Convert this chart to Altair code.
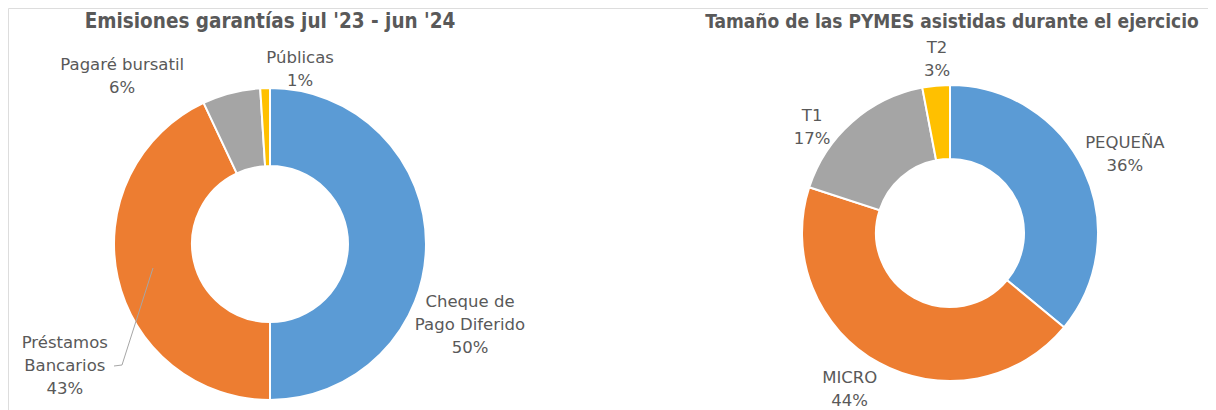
import altair as alt
import pandas as pd

# ---- data ----
left_title = "Emisiones garantías jul '23 - jun '24"
left_cats = ["Cheque de Pago Diferido", "Préstamos Bancarios", "Pagaré bursatil", "Públicas"]
left_labels = ["Cheque de\nPago Diferido", "Préstamos\nBancarios", "Pagaré bursatil", "Públicas"]
left_vals = [50, 43, 6, 1]

right_title = "Tamaño de las PYMES asistidas durante el ejercicio"
right_cats = ["PEQUEÑA", "MICRO", "T1", "T2"]
right_labels = ["PEQUEÑA", "MICRO", "T1", "T2"]
right_vals = [36, 44, 17, 3]

palette = ["#5B9BD5", "#ED7D31", "#A5A5A5", "#FFC000"]

# ---- layout / style ----
FONT = "DejaVu Sans Condensed"
LFONT = "DejaVu Sans"
TXT = "#595959"
W, H = 1200, 402
LH = 23
left_geo = dict(cx=262, cy=236, r_in=78, r_out=156, tx=262, tsize=20.5,
                nudges=[(44, 58), (-53, 65), (-109, -27.5), (35, -30.5)])
right_geo = dict(cx=942, cy=225, r_in=74, r_out=148, tx=944, tsize=19,
                 nudges=[(41, -26.5), (-29, 15), (-40, -5.5), (1, -37.5)])


def frame(cats, labels, vals):
    total = sum(vals)
    rows, cum = [], 0
    for i, (c, l, v) in enumerate(zip(cats, labels, vals)):
        rows.append(dict(cat=c, idx=i, value=v, mid=cum + v / 2,
                         text=f"{l}\n{round(100 * v / total)}%"))
        cum += v
    return pd.DataFrame(rows)


all_cats = left_cats + right_cats
color = alt.Color("cat:N", scale=alt.Scale(domain=all_cats, range=palette + palette), legend=None)
theta_scale = alt.Scale(domain=[0, 100])


def donut(df, geo, title):
    layers = [
        alt.Chart(df).mark_arc(innerRadius=geo["r_in"], outerRadius=geo["r_out"],
                               stroke="white", strokeWidth=2).encode(
            theta=alt.Theta("value:Q", stack=True, scale=theta_scale),
            color=color,
            order=alt.Order("idx:Q"),
            x=alt.value(geo["cx"]), y=alt.value(geo["cy"]),
        )
    ]
    for i, (dx, dy) in enumerate(geo["nudges"]):
        sub = df.iloc[[i]]
        layers.append(
            alt.Chart(sub).mark_text(radius=geo["r_out"], dx=dx, dy=dy, lineBreak="\n",
                                     font=LFONT, fontSize=16.5, lineHeight=LH,
                                     color=TXT, align="center", baseline="middle").encode(
                theta=alt.Theta("mid:Q", scale=theta_scale),
                text="text:N",
                x=alt.value(geo["cx"]), y=alt.value(geo["cy"]),
            )
        )
    layers.append(
        alt.Chart(pd.DataFrame({"t": [title]})).mark_text(
            font=FONT, fontSize=geo["tsize"], fontWeight="bold", color=TXT,
            align="center", baseline="middle").encode(
            text="t:N", x=alt.value(geo["tx"]), y=alt.value(14))
    )
    return layers


ldf = frame(left_cats, left_labels, left_vals)
rdf = frame(right_cats, right_labels, right_vals)

layers = donut(ldf, left_geo, left_title) + donut(rdf, right_geo, right_title)

# leader line for "Préstamos Bancarios"
one = pd.DataFrame({"a": [0]})
leader_line = alt.Chart(one).mark_rule(color="#A6A6A6", strokeWidth=1).encode(
    x=alt.value(145), y=alt.value(260), x2=alt.value(114), y2=alt.value(357))
leader_tick = alt.Chart(one).mark_rule(color="#A6A6A6", strokeWidth=1).encode(
    x=alt.value(114), y=alt.value(357), x2=alt.value(106), y2=alt.value(358))

chart = alt.layer(*layers, leader_line, leader_tick).properties(
    width=W, height=H, padding=0, autosize=alt.AutoSizeParams(type="none")
).configure_view(strokeWidth=0).configure(background="white")

chart.save("out.html", embed_options={"renderer": "svg", "actions": False})
